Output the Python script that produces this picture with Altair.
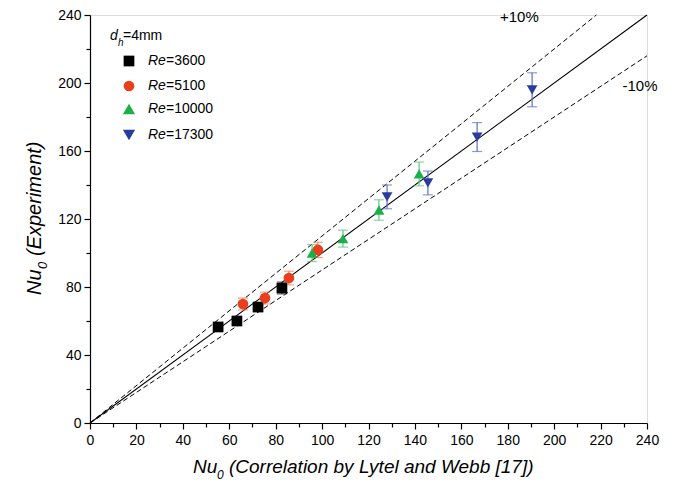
import altair as alt
import pandas as pd

# ---- data ----
re3600_x = [55.2, 63.3, 72.4, 82.7]
re3600_y = [56.5, 60.0, 68.2, 79.4]
re3600_e = [2.0, 2.0, 2.0, 3.5]

re5100_x = [65.9, 75.4, 85.7, 98.2]
re5100_y = [70.0, 73.5, 85.3, 101.8]
re5100_e = [3.5, 3.5, 4.0, 4.5]

re10000_x = [95.7, 109.0, 124.5, 141.8]
re10000_y = [100.0, 108.5, 125.3, 146.5]
re10000_e = [5.0, 5.0, 6.0, 7.0]

re17300_x = [128.0, 145.6, 166.8, 190.5]
re17300_y = [133.0, 141.2, 168.2, 196.0]
re17300_e = [7.0, 7.0, 8.5, 10.0]

series_names = ["Re=3600", "Re=5100", "Re=10000", "Re=17300"]
series_colors = ["#000000", "#EA3F1C", "#1AAF48", "#283C9C"]
err_colors = ["#333333", "#F07A5E", "#5CC67E", "#5A70C4"]
series_shapes = ["square", "circle", "triangle-up", "triangle-down"]
series_sizes = [115, 115, 150, 150]

x_ticks = [0, 10, 20, 30, 40, 50, 60, 70, 80, 90, 100, 110, 120, 130, 140, 150,
           160, 170, 180, 190, 200, 210, 220, 230, 240]
y_ticks = [0, 20, 40, 60, 80, 100, 120, 140, 160, 180, 200, 220, 240]

ref_x = [0, 240]
ref_y = [0, 240]
plus_x = [0, 240 / 1.1]
plus_y = [0, 240]
minus_x = [0, 240]
minus_y = [0, 216]

ann_text = ["+10%", "-10%"]
ann_x = [185, 237]
ann_y = [239, 198]

FONT = "Liberation Sans"
W, H = 557, 408

xs = alt.Scale(domain=[0, 240], nice=False, zero=False)
ys = alt.Scale(domain=[0, 240], nice=False, zero=False)

rows = []
for name, xv, yv, ev in [
    (series_names[0], re3600_x, re3600_y, re3600_e),
    (series_names[1], re5100_x, re5100_y, re5100_e),
    (series_names[2], re10000_x, re10000_y, re10000_e),
    (series_names[3], re17300_x, re17300_y, re17300_e),
]:
    for a, b, e in zip(xv, yv, ev):
        rows.append({"series": name, "x": a, "y": b, "lo": b - e, "hi": b + e})
df = pd.DataFrame(rows)

x_axis = alt.Axis(
    values=x_ticks,
    tickSize={"condition": {"test": "datum.value % 20 === 0", "value": 6}, "value": 4},
    labelExpr="datum.value % 20 === 0 ? datum.label : ''",
    labelFontSize=14, labelFont=FONT, labelColor="black", domainColor="black",
    tickColor="black", grid=False, title=None, orient="bottom", labelPadding=4,
    domainWidth=1.2, tickWidth=1.2, labelFlush=False, labelOverlap=False)
y_axis = alt.Axis(
    values=y_ticks,
    tickSize={"condition": {"test": "datum.value % 40 === 0", "value": 6}, "value": 4},
    labelExpr="datum.value % 40 === 0 ? datum.label : ''",
    labelFontSize=14, labelFont=FONT, labelColor="black", domainColor="black",
    tickColor="black", grid=False, title=None, orient="left", labelPadding=3,
    domainWidth=1.2, tickWidth=1.2, labelFlush=False, labelOverlap=False)


def X(f):
    return alt.X(f, scale=xs, axis=x_axis)


def Y(f):
    return alt.Y(f, scale=ys, axis=y_axis)


ref_df = pd.DataFrame({"x": ref_x, "y": ref_y})
plus_df = pd.DataFrame({"x": plus_x, "y": plus_y})
minus_df = pd.DataFrame({"x": minus_x, "y": minus_y})

ref_line = alt.Chart(ref_df).mark_line(color="black", strokeWidth=1.1).encode(
    x=X("x:Q"), y=Y("y:Q"))
plus_line = alt.Chart(plus_df).mark_line(color="black", strokeWidth=1, strokeDash=[5, 3]).encode(
    x=X("x:Q"), y=Y("y:Q"))
minus_line = alt.Chart(minus_df).mark_line(color="black", strokeWidth=1, strokeDash=[5, 3]).encode(
    x=X("x:Q"), y=Y("y:Q"))

color_scale = alt.Scale(domain=series_names, range=series_colors)
err_scale = alt.Scale(domain=series_names, range=err_colors)
shape_scale = alt.Scale(domain=series_names, range=series_shapes)
size_scale = alt.Scale(domain=series_names, range=series_sizes)

err_v = alt.Chart(df).mark_rule(strokeWidth=1.2).encode(
    x=X("x:Q"), y=Y("lo:Q"), y2="hi:Q",
    stroke=alt.Stroke("series:N", scale=err_scale, legend=None))
err_top = alt.Chart(df).mark_tick(orient="horizontal", size=10, thickness=1.2, filled=True).encode(
    x=X("x:Q"), y=Y("hi:Q"),
    fill=alt.Fill("series:N", scale=err_scale, legend=None))
err_bot = alt.Chart(df).mark_tick(orient="horizontal", size=10, thickness=1.2, filled=True).encode(
    x=X("x:Q"), y=Y("lo:Q"),
    fill=alt.Fill("series:N", scale=err_scale, legend=None))

pts = alt.Chart(df).mark_point(filled=True, opacity=1).encode(
    x=X("x:Q"), y=Y("y:Q"),
    color=alt.Color("series:N", scale=color_scale, legend=None),
    shape=alt.Shape("series:N", scale=shape_scale, legend=None),
    size=alt.Size("series:N", scale=size_scale, legend=None),
)

ann_df = pd.DataFrame({"t": ann_text, "x": ann_x, "y": ann_y})
ann = alt.Chart(ann_df).mark_text(fontSize=15, font=FONT, color="black").encode(
    x=X("x:Q"), y=Y("y:Q"), text="t:N")


def txt(s, x, y, size=14, italic=False, angle=0, align="left", baseline="middle"):
    kw = dict(fontSize=size, font=FONT, color="black", align=align, baseline=baseline)
    if italic:
        kw["fontStyle"] = "italic"
    if angle:
        kw["angle"] = angle
    return alt.Chart(pd.DataFrame({"t": [s]})).mark_text(**kw).encode(
        x=alt.value(x), y=alt.value(y), text="t:N")


# ---- custom legend ----
leg_layers = [
    txt("d", 20, 21, italic=True),
    txt("h", 28, 28, size=10, italic=True),
    txt("=4mm", 33, 21),
]
leg_y = [46, 71, 94, 120]
for i, name in enumerate(series_names):
    leg_layers.append(
        alt.Chart(pd.DataFrame({"s": [name]})).mark_point(
            filled=True, opacity=1, size=series_sizes[i], shape=series_shapes[i],
            color=series_colors[i]).encode(x=alt.value(39), y=alt.value(leg_y[i]))
    )
    leg_layers.append(txt("Re", 58, leg_y[i], italic=True))
    leg_layers.append(txt(name[2:], 76, leg_y[i]))

# ---- axis titles ----
title_layers = [
    txt("Nu", 103, 452, size=19, italic=True),
    txt("0", 127, 460, size=12, italic=True),
    txt("(Correlation by Lytel and Webb [17])", 139, 452, size=19, italic=True),
    txt("Nu", -55, 280, size=20, italic=True, angle=270),
    txt("0", -47, 254, size=13, italic=True, angle=270),
    txt("(Experiment)", -55, 241, size=20, italic=True, angle=270),
]

chart = alt.layer(
    ref_line, plus_line, minus_line, err_v, err_top, err_bot, pts, ann,
    *leg_layers, *title_layers
).resolve_scale(color="independent", stroke="independent", fill="independent").properties(
    width=W, height=H,
    autosize=alt.AutoSizeParams(type="none"),
    padding={"left": 82, "top": 7, "right": 20, "bottom": 60},
).configure_view(stroke=None).configure(background="white")

chart.save("out.html", embed_options={"renderer": "svg", "actions": False})
